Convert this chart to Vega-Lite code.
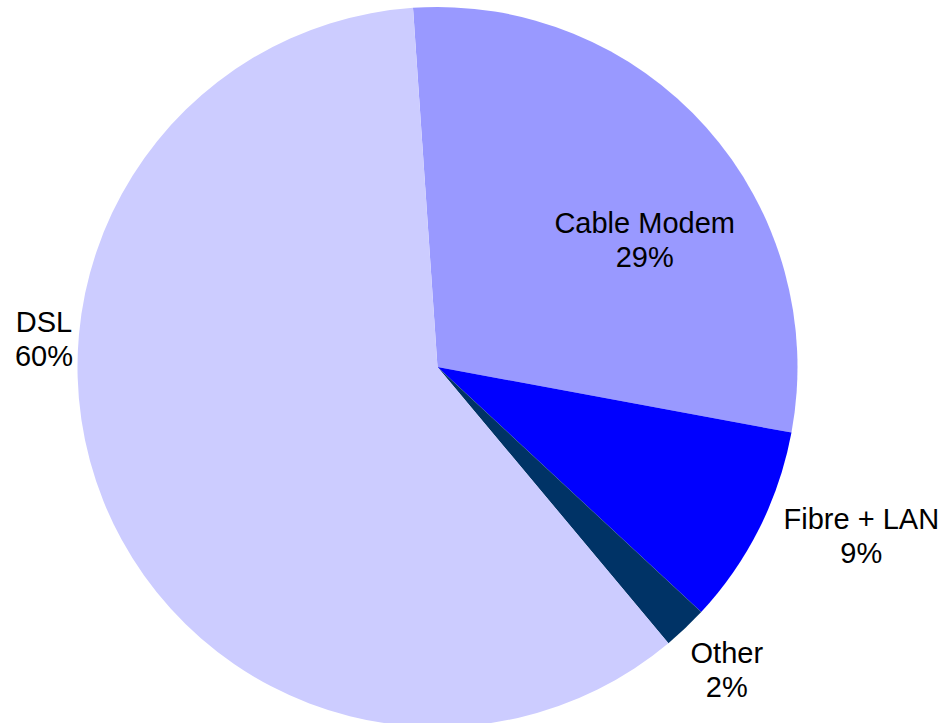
{
  "$schema": "https://vega.github.io/schema/vega-lite/v6.json",
  "autosize": "none",
  "width": 875,
  "height": 712,
  "padding": {"left": 0, "top": 11, "right": 70, "bottom": 0},
  "background": "white",
  "config": {"view": {"stroke": null}},
  "data": {
    "values": [
      {"category": "Cable Modem", "share": 29, "rank": 1, "label": "Cable Modem\n29%"},
      {"category": "Fibre + LAN", "share": 9, "rank": 2, "label": "Fibre + LAN\n9%"},
      {"category": "Other", "share": 2, "rank": 3, "label": "Other\n2%"},
      {"category": "DSL", "share": 60, "rank": 4, "label": "DSL\n60%"}
    ]
  },
  "encoding": {
    "theta": {"field": "share", "type": "quantitative", "stack": true, "scale": {"range": [-0.0681, 6.2151]}},
    "order": {"field": "rank", "type": "quantitative"}
  },
  "layer": [
    {
      "mark": {"type": "arc", "radius": 360},
      "encoding": {
        "color": {
          "field": "category",
          "type": "nominal",
          "scale": {"domain": ["Cable Modem", "Fibre + LAN", "Other", "DSL"], "range": ["#9999FF", "#0000FF", "#003366", "#CCCCFF"]},
          "legend": null
        }
      }
    },
    {
      "mark": {"type": "text", "radius": 244, "dx": 25, "dy": 28, "font": "Liberation Sans", "fontSize": 29, "align": "center", "baseline": "alphabetic", "lineBreak": "\n", "lineHeight": 34, "color": "black"},
      "encoding": {"text": {"condition": {"test": "datum.category === 'Cable Modem'", "field": "label"}, "value": ""}}
    },
    {
      "mark": {"type": "text", "radius": 452, "dx": 20, "dy": -41, "font": "Liberation Sans", "fontSize": 29, "align": "center", "baseline": "alphabetic", "lineBreak": "\n", "lineHeight": 34, "color": "black"},
      "encoding": {"text": {"condition": {"test": "datum.category === 'Fibre + LAN'", "field": "label"}, "value": ""}}
    },
    {
      "mark": {"type": "text", "radius": 413, "dx": 5, "dy": -4, "font": "Liberation Sans", "fontSize": 29, "align": "center", "baseline": "alphabetic", "lineBreak": "\n", "lineHeight": 34, "color": "black"},
      "encoding": {"text": {"condition": {"test": "datum.category === 'Other'", "field": "label"}, "value": ""}}
    },
    {
      "mark": {"type": "text", "radius": 352, "dx": -67, "dy": -166, "font": "Liberation Sans", "fontSize": 29, "align": "center", "baseline": "alphabetic", "lineBreak": "\n", "lineHeight": 34, "color": "black"},
      "encoding": {"text": {"condition": {"test": "datum.category === 'DSL'", "field": "label"}, "value": ""}}
    }
  ]
}
